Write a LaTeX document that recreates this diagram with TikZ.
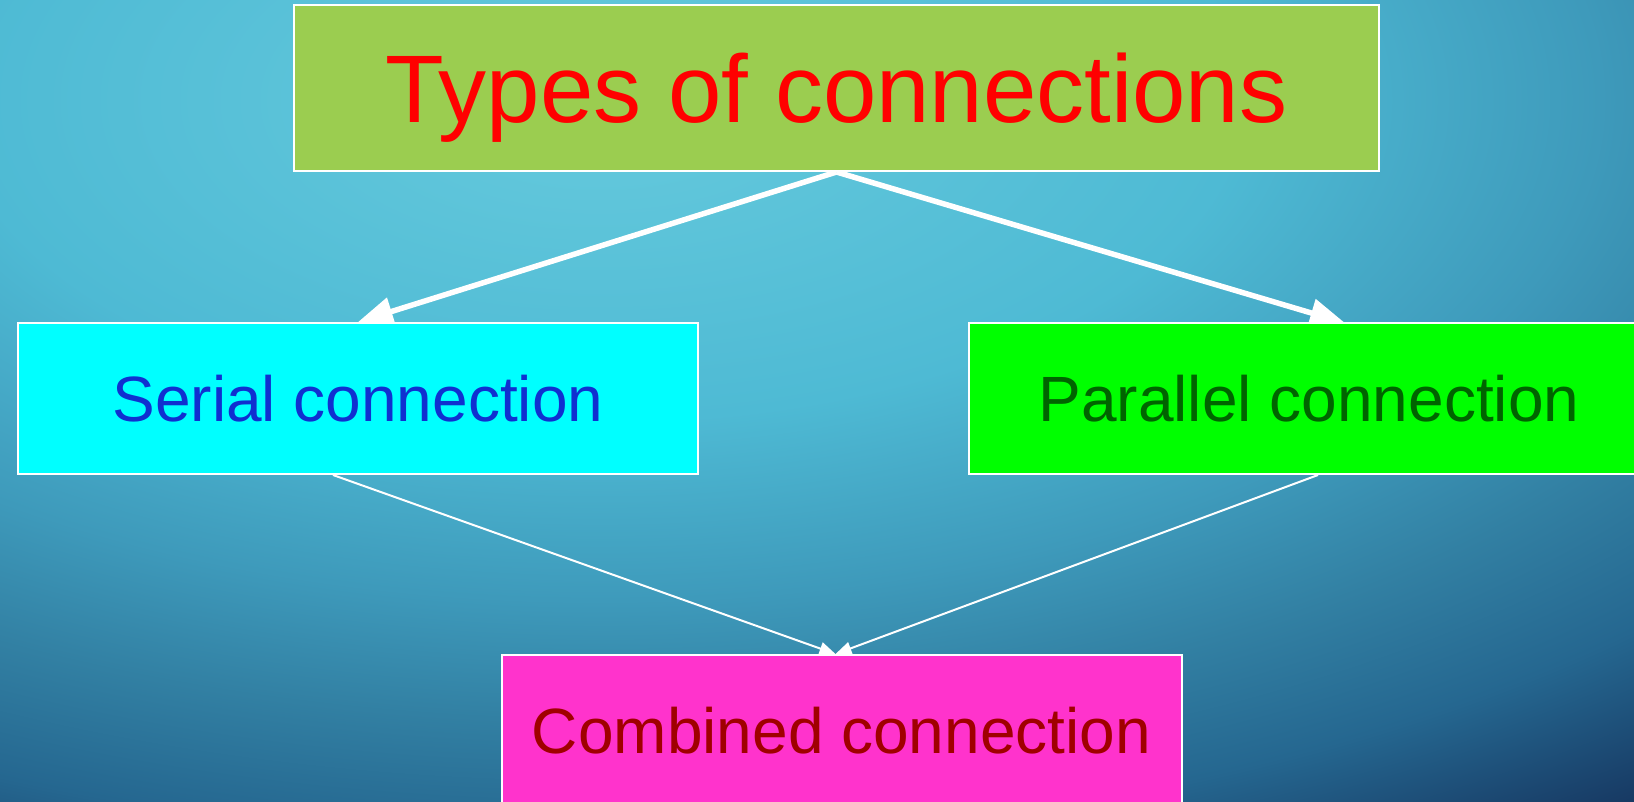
\documentclass[tikz,border=0pt]{standalone}
\usepackage{fontspec}
\setmainfont{Liberation Sans}
\usetikzlibrary{arrows.meta}
\definecolor{bgA}{RGB}{102,202,221}
\definecolor{bgB}{RGB}{78,186,212}
\definecolor{bgC}{RGB}{62,154,187}
\definecolor{bgD}{RGB}{50,128,163}
\definecolor{bgE}{RGB}{37,103,144}
\definecolor{bgF}{RGB}{22,54,96}
\definecolor{bgG}{RGB}{14,42,80}
\definecolor{titlefill}{RGB}{155,205,80}
\definecolor{serfill}{RGB}{0,255,255}
\definecolor{parfill}{RGB}{0,255,0}
\definecolor{combfill}{RGB}{255,51,204}
\definecolor{sertext}{RGB}{16,48,208}
\definecolor{partext}{RGB}{0,100,0}
\definecolor{combtext}{RGB}{160,0,0}
\pgfdeclareradialshading{bgshade}{\pgfpoint{0bp}{0bp}}{color(0bp)=(bgA); color(8bp)=(bgB); color(12.5bp)=(bgC); color(15.5bp)=(bgD); color(18.5bp)=(bgE); color(22bp)=(bgF); color(25bp)=(bgG); color(50bp)=(bgG)}
\pgfdeclarelayer{bglayer}
\pgfdeclarelayer{arrowlayer}
\pgfsetlayers{bglayer,arrowlayer,main}
\tikzset{
  box/.style={draw=white, line width=1pt, inner sep=0pt, text depth=0pt},
  smallbox/.style={box, minimum width=340pt, minimum height=75.5pt, font=\fontsize{32}{32}\selectfont, text height=22.9pt},
  bigarrow/.style={draw=white, line width=2.75pt, -{Triangle[length=17.5pt,width=14pt]}, fill=white},
  thinarrow/.style={draw=white, line width=1pt, -{Triangle[length=8pt,width=6.5pt]}, fill=white}
}
\begin{document}
\begin{tikzpicture}[x=0.5pt,y=-0.5pt]
\useasboundingbox (0,0) rectangle (1634,802);
\begin{pgfonlayer}{bglayer}
\begin{scope}
\clip (0,0) rectangle (1634,802);
\path[shading=bgshade] (-1400,-900) rectangle (2600,1100);
\end{scope}
\end{pgfonlayer}
\node[box, fill=titlefill, minimum width=542.5pt, minimum height=83pt, font=\fontsize{48}{48}\selectfont, text height=34.4pt, text=red] (title) at (836.5,88) {Types of connections};
\node[smallbox, fill=serfill, text=sertext] (ser) at (358,398.5) {Serial connection};
\node[smallbox, fill=parfill, text=partext] (par) at (1309,398.5) {Parallel connection};
\node[smallbox, fill=combfill, text=combtext] (comb) at (841.5,730.5) {Combined connection};
\coordinate (ptip) at (1345,323);
\begin{pgfonlayer}{arrowlayer}
\path[bigarrow] (title.south) -- (ser.north);
\path[bigarrow] (title.south) -- (ptip);
\path[thinarrow] ([xshift=-12.5pt]ser.south) -- ([xshift=-3pt]comb.north);
\path[thinarrow] ([xshift=4.5pt]par.south) -- ([xshift=-3pt]comb.north);
\end{pgfonlayer}
\end{tikzpicture}
\end{document}
